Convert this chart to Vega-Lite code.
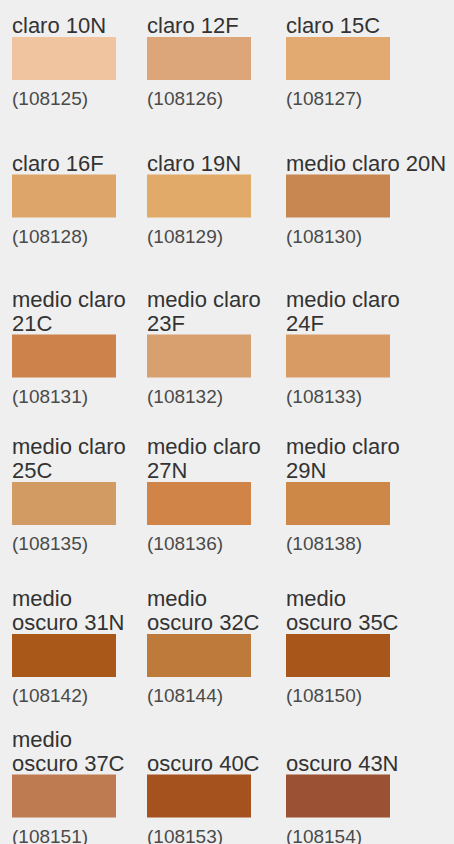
{
  "$schema": "https://vega.github.io/schema/vega-lite/v6.json",
  "width": 454,
  "height": 844,
  "autosize": {"type": "none"},
  "padding": 0,
  "background": "#efefef",
  "config": {"view": {"stroke": null}},
  "data": {
    "values": [
      {"row": 1, "col": 1, "line1": "", "line2": "claro 10N", "code": "(108125)"},
      {"row": 1, "col": 2, "line1": "", "line2": "claro 12F", "code": "(108126)"},
      {"row": 1, "col": 3, "line1": "", "line2": "claro 15C", "code": "(108127)"},
      {"row": 2, "col": 1, "line1": "", "line2": "claro 16F", "code": "(108128)"},
      {"row": 2, "col": 2, "line1": "", "line2": "claro 19N", "code": "(108129)"},
      {"row": 2, "col": 3, "line1": "", "line2": "medio claro 20N", "code": "(108130)"},
      {"row": 3, "col": 1, "line1": "medio claro", "line2": "21C", "code": "(108131)"},
      {"row": 3, "col": 2, "line1": "medio claro", "line2": "23F", "code": "(108132)"},
      {"row": 3, "col": 3, "line1": "medio claro", "line2": "24F", "code": "(108133)"},
      {"row": 4, "col": 1, "line1": "medio claro", "line2": "25C", "code": "(108135)"},
      {"row": 4, "col": 2, "line1": "medio claro", "line2": "27N", "code": "(108136)"},
      {"row": 4, "col": 3, "line1": "medio claro", "line2": "29N", "code": "(108138)"},
      {"row": 5, "col": 1, "line1": "medio", "line2": "oscuro 31N", "code": "(108142)"},
      {"row": 5, "col": 2, "line1": "medio", "line2": "oscuro 32C", "code": "(108144)"},
      {"row": 5, "col": 3, "line1": "medio", "line2": "oscuro 35C", "code": "(108150)"},
      {"row": 6, "col": 1, "line1": "medio", "line2": "oscuro 37C", "code": "(108151)"},
      {"row": 6, "col": 2, "line1": "", "line2": "oscuro 40C", "code": "(108153)"},
      {"row": 6, "col": 3, "line1": "", "line2": "oscuro 43N", "code": "(108154)"}
    ]
  },
  "encoding": {
    "x": {"field": "col", "type": "quantitative", "axis": null,
          "scale": {"domain": [1, 2, 3], "range": [64, 199, 338], "zero": false, "nice": false}},
    "y": {"field": "row", "type": "quantitative", "axis": null,
          "scale": {"domain": [1, 2, 3, 4, 5, 6], "range": [58.5, 196, 356, 503.5, 655.5, 796], "zero": false, "nice": false}}
  },
  "layer": [
    {
      "mark": {"type": "rect", "xOffset": -52, "x2Offset": 52, "yOffset": -21.5, "y2Offset": 21.5},
      "encoding": {
        "x2": {"field": "col"},
        "y2": {"field": "row"},
        "color": {"field": "code", "type": "nominal", "legend": null,
          "scale": {
            "domain": ["(108125)", "(108126)", "(108127)", "(108128)", "(108129)", "(108130)", "(108131)", "(108132)", "(108133)", "(108135)", "(108136)", "(108138)", "(108142)", "(108144)", "(108150)", "(108151)", "(108153)", "(108154)"],
            "range": ["#f0c49e", "#dca57a", "#e2aa70", "#dea56a", "#e1aa69", "#c88750", "#cd824b", "#d7a06e", "#d99b64", "#d29b64", "#d08448", "#cd8746", "#aa5819", "#be7a3a", "#a85619", "#be7a50", "#a5521e", "#9b5234"]
          }}
      }
    },
    {
      "mark": {"type": "text", "align": "left", "baseline": "alphabetic", "dx": -52, "dy": -49.5, "fontSize": 22, "font": "Liberation Sans", "color": "#333333"},
      "encoding": {"text": {"field": "line1", "type": "nominal"}}
    },
    {
      "mark": {"type": "text", "align": "left", "baseline": "alphabetic", "dx": -52, "dy": -25.5, "fontSize": 22, "font": "Liberation Sans", "color": "#333333"},
      "encoding": {"text": {"field": "line2", "type": "nominal"}}
    },
    {
      "mark": {"type": "text", "align": "left", "baseline": "alphabetic", "dx": -52, "dy": 46.5, "fontSize": 19, "font": "Liberation Sans", "color": "#4a4a4a"},
      "encoding": {"text": {"field": "code", "type": "nominal"}}
    }
  ]
}
